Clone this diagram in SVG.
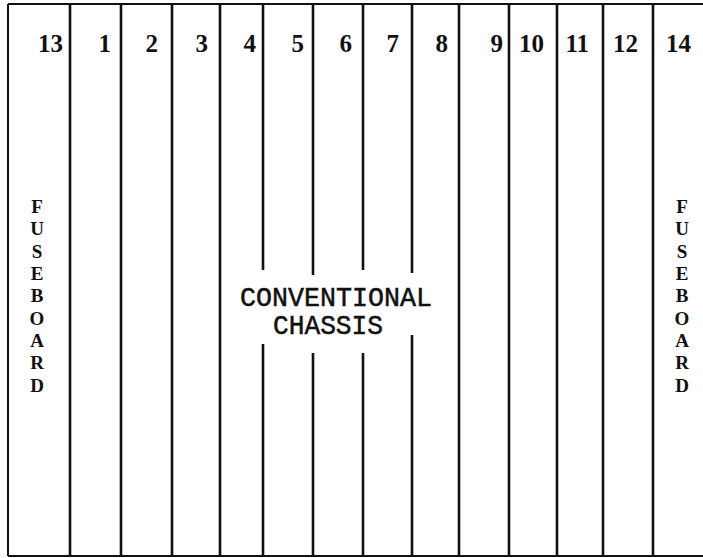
<svg xmlns="http://www.w3.org/2000/svg" width="703" height="558" viewBox="0 0 703 558">
<style>
.ln{stroke:#111;stroke-width:2.6;fill:none;stroke-linecap:butt}
.bd{stroke:#111;stroke-width:2;fill:none}
.num{font-family:"Liberation Serif","DejaVu Serif",serif;font-weight:bold;font-size:25px;fill:#111;text-anchor:end}
.fb{font-family:"Liberation Serif","DejaVu Serif",serif;font-weight:bold;font-size:19px;fill:#111;text-anchor:middle}
.tw{font-family:"Liberation Mono","DejaVu Sans Mono",monospace;font-size:27px;fill:#111;stroke:#111;stroke-width:0.5}
</style>
<rect width="703" height="558" fill="#fff"/>
<g id="connectors">
<path class="bd" d="M8,4 H703 M8,4 V556 M8,556 H703"/>
<path class="ln" d="M70,4V556 M121,4V556 M172,4V556 M220,4V556 M459,4V556 M509,4V556 M557,4V556 M603,4V556 M653,4V556"/>
<path class="ln" d="M263,4V270 M263,344V556 M313,4V275 M313,353V556 M363,4V270 M363,353V556 M412,4V273 M412,335V556"/>
</g>
<g id="numbers">
<text class="num" x="63" y="52">13</text>
<text class="num" x="111" y="52">1</text>
<text class="num" x="158" y="52">2</text>
<text class="num" x="208" y="52">3</text>
<text class="num" x="256" y="52">4</text>
<text class="num" x="304" y="52">5</text>
<text class="num" x="352" y="52">6</text>
<text class="num" x="399" y="52">7</text>
<text class="num" x="448" y="52">8</text>
<text class="num" x="503" y="52">9</text>
<text class="num" x="544" y="52">10</text>
<text class="num" x="589" y="52">11</text>
<text class="num" x="638" y="52">12</text>
<text class="num" x="691" y="52">14</text>
</g>
<g id="fuseboard-left">
<text class="fb" x="37" y="213">F</text>
<text class="fb" x="37" y="235">U</text>
<text class="fb" x="37" y="258">S</text>
<text class="fb" x="37" y="280">E</text>
<text class="fb" x="37" y="302">B</text>
<text class="fb" x="37" y="325">O</text>
<text class="fb" x="37" y="347">A</text>
<text class="fb" x="37" y="369">R</text>
<text class="fb" x="37" y="392">D</text>
</g>
<g id="fuseboard-right">
<text class="fb" x="682" y="213">F</text>
<text class="fb" x="682" y="235">U</text>
<text class="fb" x="682" y="258">S</text>
<text class="fb" x="682" y="280">E</text>
<text class="fb" x="682" y="302">B</text>
<text class="fb" x="682" y="325">O</text>
<text class="fb" x="682" y="347">A</text>
<text class="fb" x="682" y="369">R</text>
<text class="fb" x="682" y="392">D</text>
</g>
<g id="chassis">
<text class="tw" x="240" y="306" textLength="192" lengthAdjust="spacingAndGlyphs">CONVENTIONAL</text>
<text class="tw" x="273" y="334" textLength="110" lengthAdjust="spacingAndGlyphs">CHASSIS</text>
</g>
</svg>
